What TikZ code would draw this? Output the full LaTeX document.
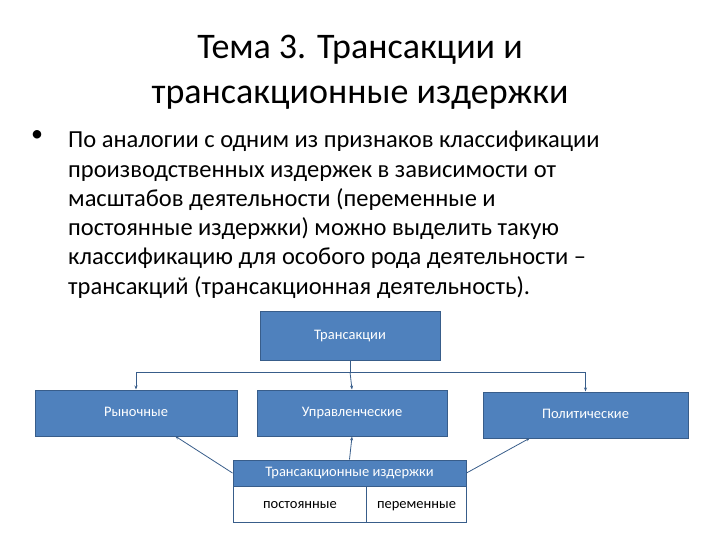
\documentclass[tikz,border=0pt]{standalone}
\usepackage{fontspec}
\setmainfont{Carlito}
\usetikzlibrary{arrows.meta}
\definecolor{bluef}{RGB}{79,129,189}
\definecolor{bluel}{RGB}{56,93,138}
\begin{document}
\begin{tikzpicture}[x=1pt,y=-1pt,
  ln/.style={draw=bluel,line width=0.8pt},
  ar/.style={ln,-{Stealth[length=4pt]}},
  bx/.style={draw=bluel,fill=bluef,line width=1pt,text=white,font=\fontsize{14.5}{16}\selectfont,inner sep=0pt,text height=10pt,text depth=3pt},
  wb/.style={draw=bluel,line width=1pt,inner sep=0pt,anchor=north west,font=\fontsize{14.5}{16}\selectfont,text height=10pt,text depth=3pt}]
\useasboundingbox (0,0) rectangle (720,540);
\node[align=center,font=\fontsize{36}{45}\selectfont] (title) at (360,72) {Тема 3. Трансакции и\\трансакционные издержки};
\node[anchor=north west,font=\fontsize{24}{29}\selectfont,inner sep=0pt] (bul) at (31,130) {•};
\node[anchor=north west,align=left,inner sep=0pt,font=\fontsize{24.5}{29.3}\selectfont] (body) at (68,131) {По аналогии с одним из признаков классификации\\производственных издержек в зависимости от\\масштабов деятельности (переменные и\\постоянные издержки) можно выделить такую\\классификацию для особого рода деятельности –\\трансакций (трансакционная деятельность).};
\node[bx,minimum width=180,minimum height=49] (t) at (350,335.5) {Трансакции};
\node[bx,minimum width=202,minimum height=46] (r) at (136,413) {Рыночные};
\node[bx,minimum width=190,minimum height=46] (u) at (352,413) {Управленческие};
\node[bx,minimum width=205,minimum height=46] (p) at (585.5,415) {Политические};
\node[bx,minimum width=233,minimum height=26] (h) at (349.5,473) {Трансакционные издержки};
\node[wb,minimum width=133,minimum height=36] (c1) at (233,486) {постоянные};
\node[wb,minimum width=100,minimum height=36] (c2) at (366,486) {переменные};
\coordinate (j) at (350,372);
\draw[ln] (t.south) -- (j);
\draw[ar] (j) -| (r.north);
\draw[ar] (j) -- (u.north);
\draw[ar] (j) -| (p.north);
\draw[ar] (h.west) -- (175,436);
\draw[ar] (h.north) -- (u.south);
\draw[ar] (h.east) -- (530,438);
\end{tikzpicture}
\end{document}
